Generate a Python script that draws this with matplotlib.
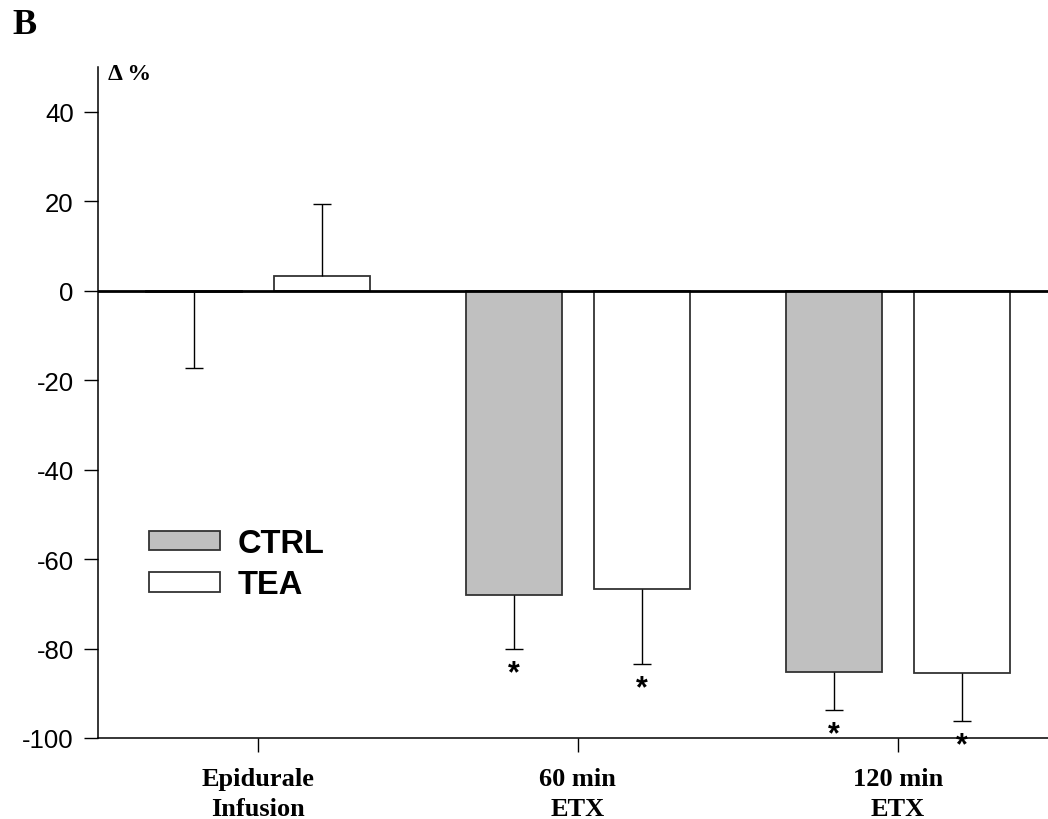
import numpy as np
import matplotlib.pyplot as plt
from matplotlib.patches import Patch

# --------------------------------------------------------------------------- #
#  Datos
# --------------------------------------------------------------------------- #
GROUPS = ["Epidurale\nInfusion", "60 min\nETX", "120 min\nETX"]
CTRL_VAL = [-0.3, -68.0, -85.2]
CTRL_ERR = [16.9, 12.0, 8.5]
TEA_VAL = [3.3, -66.8, -85.5]
TEA_ERR = [16.0, 16.6, 10.7]
SIGNIF = [False, True, True]          # asterisco bajo ambas barras
Y_TICKS = [-100, -80, -60, -40, -20, 0, 20, 40]

SANS = ["Liberation Sans", "DejaVu Sans"]
SERIF = ["Liberation Serif", "DejaVu Serif"]
EDGE = "#333333"


def main():
    plt.rcParams['font.family'] = SANS
    plt.rcParams['axes.unicode_minus'] = False
    fig = plt.figure(figsize=(10.48, 8.2), dpi=100)
    ax = fig.add_axes([98 / 1048, 81 / 820, 950 / 1048, 671 / 820])

    x = np.arange(len(GROUPS))
    off, width = 0.2, 0.3
    for vals, errs, color, dx in ((CTRL_VAL, CTRL_ERR, "#c0c0c0", -off),
                                  (TEA_VAL, TEA_ERR, "white", off)):
        xs = x + dx
        ax.bar(xs, vals, width, color=color, edgecolor=EDGE,
               linewidth=1.3, zorder=2)
        # error solo hacia afuera del cero, con tapa solo en el extremo
        ends = [v - e if v < 0 else v + e for v, e in zip(vals, errs)]
        ax.vlines(xs, vals, ends, color="black", linewidth=1.0, zorder=3)
        ax.plot(xs, ends, linestyle="none", marker="_", markersize=13,
                markeredgewidth=1.0, color="black", zorder=3)
        for xi, end, s in zip(xs, ends, SIGNIF):
            if s:
                ax.annotate("*", xy=(xi, end), xytext=(0, -7),
                            textcoords="offset points", ha="center", va="top",
                            fontsize=22, fontweight="bold", family=SANS)

    ax.axhline(0, color="black", linewidth=2.0, zorder=4)

    ax.set_xlim(-0.5, 2.47)
    ax.set_ylim(-100, 50)
    ax.set_yticks(Y_TICKS)
    ax.set_xticks(x)
    ax.set_xticklabels(GROUPS, family=SERIF, fontweight="bold", fontsize=19,
                       linespacing=1.38)
    for lab in ax.get_yticklabels():
        lab.set_fontsize(18.5)
    ax.tick_params(axis="y", length=10, width=1.0, pad=7.5)
    ax.tick_params(axis="x", length=10, width=1.0, pad=11)

    for side in ("top", "right"):
        ax.spines[side].set_visible(False)
    for side in ("left", "bottom"):
        ax.spines[side].set_linewidth(1.1)

    ax.text(0.01, 0.99, "\u0394 %", transform=ax.transAxes, ha="left",
            va="center", fontsize=17, fontweight="bold", family=SERIF)
    fig.text(12 / 1048, 1 - 25 / 820, "B", ha="left", va="center",
             fontsize=26, fontweight="bold", family=SERIF)

    handles = [Patch(facecolor="#c0c0c0", edgecolor=EDGE, linewidth=1.3),
               Patch(facecolor="white", edgecolor=EDGE, linewidth=1.3)]
    fig.legend(handles, ["CTRL", "TEA"], loc="upper left",
               bbox_to_anchor=(149 / 1048, 1 - 529 / 820), frameon=False,
               borderpad=0, borderaxespad=0, handlelength=2.17,
               handleheight=0.55, handletextpad=0.55, labelspacing=0.32,
               prop={"family": SANS, "weight": "bold", "size": 23.5})

    fig.savefig("out.png", dpi=100)
    plt.close(fig)


if __name__ == "__main__":
    main()
